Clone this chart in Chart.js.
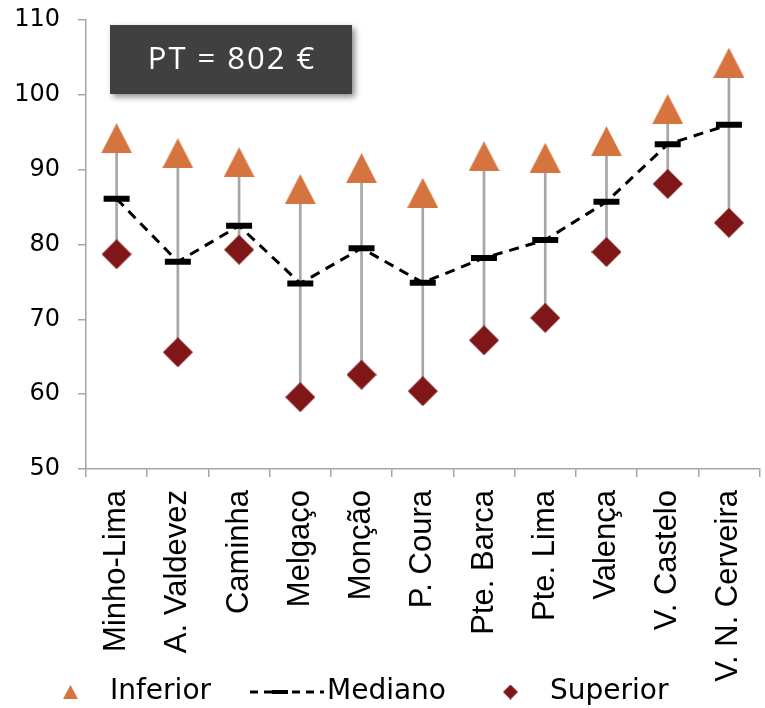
<!DOCTYPE html>
<html>
<head>
<meta charset="utf-8">
<script src="https://cdn.jsdelivr.net/npm/chart.js@4/dist/chart.umd.min.js"></script>
<style>
html, body { margin: 0; padding: 0; background: #fff; overflow: hidden; }
#wrap { width: 765px; height: 708px; overflow: hidden; position: relative; }
</style>
</head>
<body>
<div id="wrap"><canvas id="chart" style="width:780px;height:708px"></canvas></div>
<script>
// Data
const regions = ['Minho-Lima', 'A. Valdevez', 'Caminha', 'Melgaço', 'Monção', 'P. Coura',
    'Pte. Barca', 'Pte. Lima', 'Valença', 'V. Castelo', 'V. N. Cerveira'];
const inferior = [94.2, 92.2, 91.0, 87.4, 90.2, 86.9, 91.8, 91.6, 93.8, 98.1, 104.3];
const mediano = [86.1, 77.7, 82.5, 74.8, 79.5, 74.9, 78.2, 80.6, 85.7, 93.4, 96.0];
const superior = [78.7, 65.6, 79.3, 59.6, 62.6, 60.4, 67.2, 70.2, 79.0, 88.1, 82.9];
const yMin = 50, yMax = 110, yStep = 10;
const seriesNames = ['Inferior', 'Mediano', 'Superior'];
const boxLabel = 'PT = 802 €';

const ORANGE = '#d6743f';
const DARKRED = '#7f1719';
const GREY = '#a6a6a6';

// marker images (triangle / diamond centred in their box like Excel does)
function markerCanvas(shape, w, h, color) {
    const c = document.createElement('canvas');
    c.width = w; c.height = h;
    const g = c.getContext('2d');
    g.fillStyle = color;
    g.beginPath();
    if (shape === 'triangle') {
        g.moveTo(w / 2, 0); g.lineTo(w, h); g.lineTo(0, h);
    } else {
        g.moveTo(w / 2, 0); g.lineTo(w, h / 2); g.lineTo(w / 2, h); g.lineTo(0, h / 2);
    }
    g.closePath();
    g.fill();
    return c;
}
const triMarker = markerCanvas('triangle', 31, 30, ORANGE);
const diaMarker = markerCanvas('diamond', 30, 30, DARKRED);

// annotation box + legend drawn on top
const extras = {
    id: 'extras',
    afterDraw(chart) {
        const ctx = chart.ctx;
        ctx.save();
        ctx.shadowColor = 'rgba(0,0,0,0.45)';
        ctx.shadowBlur = 6;
        ctx.shadowOffsetX = 3;
        ctx.shadowOffsetY = 3;
        ctx.fillStyle = '#404040';
        ctx.fillRect(110, 25, 242, 69);
        ctx.restore();

        ctx.save();
        ctx.fillStyle = '#fff';
        ctx.font = '31px "Open Sans"';
        ctx.letterSpacing = '2px';
        ctx.textAlign = 'center';
        ctx.textBaseline = 'middle';
        ctx.fillText(boxLabel, 232, 60);
        ctx.restore();

        // legend
        const ly = 692;
        ctx.save();
        ctx.font = '28px "DejaVu Sans"';
        ctx.fillStyle = '#000';
        ctx.textBaseline = 'middle';
        ctx.textAlign = 'left';
        ctx.drawImage(markerCanvas('triangle', 15, 14, ORANGE), 63, ly - 7);
        ctx.fillText(seriesNames[0], 110, ly);

        ctx.strokeStyle = '#000';
        ctx.lineWidth = 3;
        ctx.setLineDash([8, 6]);
        ctx.beginPath();
        ctx.moveTo(250, ly); ctx.lineTo(324, ly);
        ctx.stroke();
        ctx.setLineDash([]);
        ctx.lineWidth = 4;
        ctx.beginPath();
        ctx.moveTo(272, ly); ctx.lineTo(288, ly);
        ctx.stroke();
        ctx.fillText(seriesNames[1], 327, ly);

        ctx.drawImage(markerCanvas('diamond', 15, 15, DARKRED), 503, ly - 7.5);
        ctx.fillText(seriesNames[2], 550, ly);
        ctx.restore();
    }
};

const ctx = document.getElementById('chart').getContext('2d');
new Chart(ctx, {
    type: 'bar',
    data: {
        labels: regions,
        datasets: [
            {
                label: 'range',
                data: superior.map((s, i) => [s, inferior[i]]),
                backgroundColor: GREY,
                barThickness: 2,
                order: 10
            },
            {
                label: seriesNames[1],
                type: 'line',
                data: mediano,
                borderColor: '#000',
                borderWidth: 3,
                borderDash: [10, 7],
                pointStyle: 'line',
                pointRadius: 13,
                pointBorderWidth: 6,
                pointBorderColor: '#000',
                fill: false,
                tension: 0,
                order: 3
            },
            {
                label: seriesNames[0],
                type: 'line',
                data: inferior,
                showLine: false,
                pointStyle: triMarker,
                order: 2
            },
            {
                label: seriesNames[2],
                type: 'line',
                data: superior,
                showLine: false,
                pointStyle: diaMarker,
                order: 1
            }
        ]
    },
    options: {
        responsive: false,
        animation: false,
        layout: {
            padding: { top: 20, left: 0, right: 8, bottom: 0 }
        },
        plugins: {
            legend: { display: false },
            tooltip: { enabled: false }
        },
        scales: {
            x: {
                offset: true,
                grid: {
                    offset: true,
                    drawOnChartArea: false,
                    tickLength: 8,
                    color: GREY,
                    lineWidth: 1.5
                },
                border: { color: GREY, width: 1.5 },
                ticks: {
                    minRotation: 90,
                    maxRotation: 90,
                    padding: 13,
                    color: '#000',
                    font: { family: '"Liberation Sans"', size: 31 }
                },
                afterFit(scale) { scale.height = 239; }
            },
            y: {
                min: yMin,
                max: yMax,
                grid: {
                    drawOnChartArea: false,
                    tickLength: 8,
                    color: GREY,
                    lineWidth: 1.5
                },
                border: { color: GREY, width: 1.5 },
                ticks: {
                    stepSize: yStep,
                    padding: 18,
                    color: '#000',
                    font: { family: '"DejaVu Sans"', size: 24 }
                },
                afterFit(scale) {
                    scale.width = 86;
                    scale.paddingTop = 0;
                    scale.paddingBottom = 0;
                }
            }
        }
    },
    plugins: [extras]
});
</script>
</body>
</html>
